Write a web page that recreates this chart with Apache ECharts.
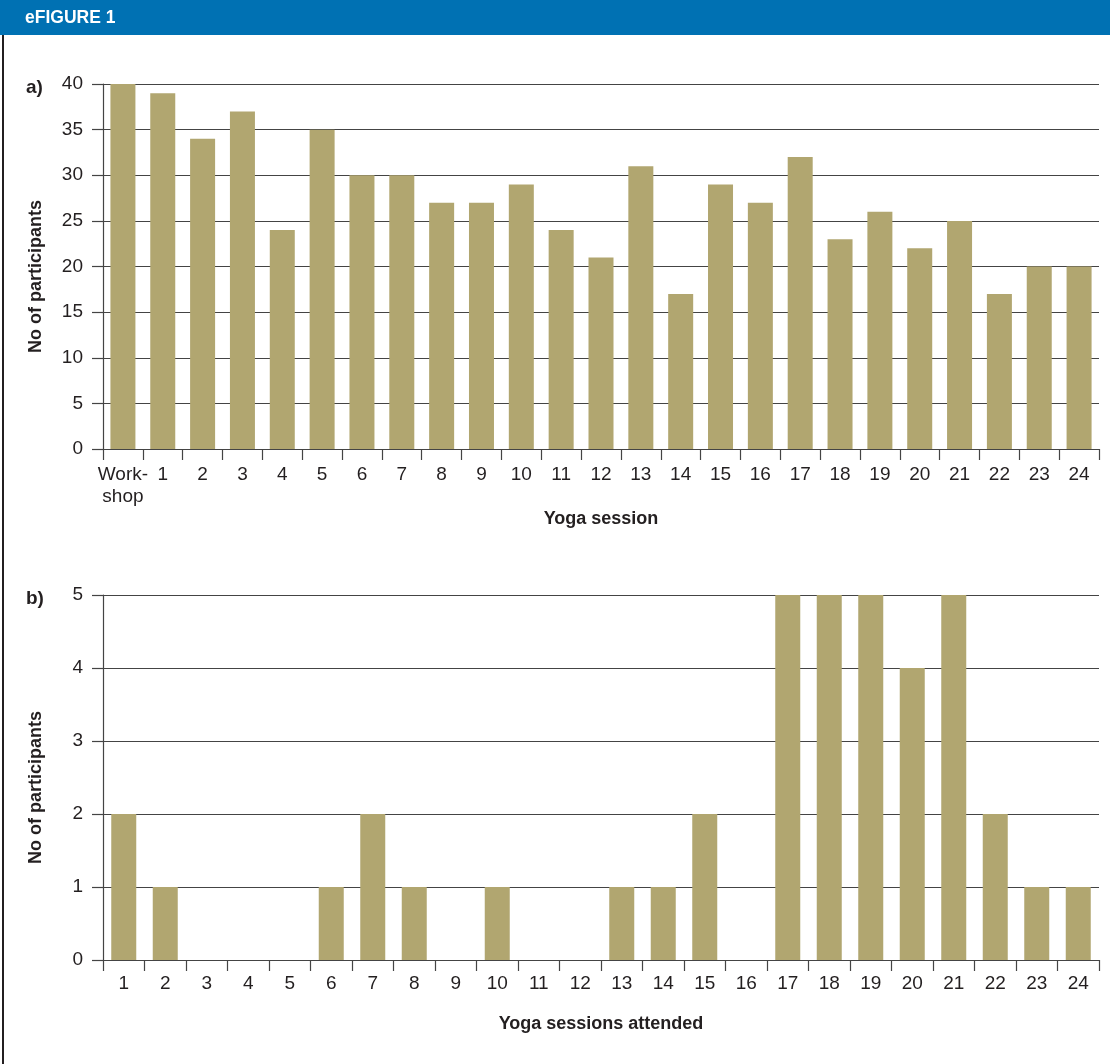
<!DOCTYPE html>
<html>
<head>
<meta charset="utf-8">
<script src="https://cdn.jsdelivr.net/npm/echarts@6/dist/echarts.min.js"></script>
<style>
  html, body { margin: 0; padding: 0; background: #fff; }
  #chart { width: 1110px; height: 1064px; }
</style>
</head>
<body>
<div id="chart"></div>
<script>
// Panel a: attendance per yoga session
const sessionCategories = ['Work-\nshop', '1', '2', '3', '4', '5', '6', '7', '8', '9', '10', '11', '12',
  '13', '14', '15', '16', '17', '18', '19', '20', '21', '22', '23', '24'];
const sessionParticipants = [40, 39, 34, 37, 24, 35, 30, 30, 27, 27, 29, 24, 21,
  31, 17, 29, 27, 32, 23, 26, 22, 25, 17, 20, 20];

// Panel b: number of participants by sessions attended
const attendedCategories = ['1', '2', '3', '4', '5', '6', '7', '8', '9', '10', '11', '12',
  '13', '14', '15', '16', '17', '18', '19', '20', '21', '22', '23', '24'];
const attendedParticipants = [2, 1, 0, 0, 0, 1, 2, 1, 0, 1, 0, 0,
  1, 1, 2, 0, 5, 5, 5, 4, 5, 2, 1, 1];

const FONT = '"Liberation Sans", Arial, sans-serif';
const INK = '#231f20';
const BAR = '#b1a670';

const chart = echarts.init(document.getElementById('chart'), null, { renderer: 'canvas' });

function yAxisCfg(gridIndex, max, interval) {
  return {
    gridIndex, type: 'value', min: 0, max, interval,
    name: 'No of participants', nameLocation: 'middle', nameGap: 58, nameRotate: 90,
    nameTextStyle: { fontFamily: FONT, fontWeight: 'bold', fontSize: 18, color: INK, padding: [0, 20, 0, 0] },
    axisLine: { show: true, lineStyle: { color: '#444', width: 1.2 } },
    axisTick: { show: true, length: 11, lineStyle: { color: '#444', width: 1.2 } },
    axisLabel: { fontFamily: FONT, fontSize: 19, color: INK, margin: 20 },
    splitLine: { show: true, lineStyle: { color: '#444', width: 1.2 } }
  };
}

function xAxisCfg(gridIndex, data, name, gap, margin) {
  return {
    gridIndex, type: 'category', data,
    name, nameLocation: 'middle', nameGap: gap,
    nameTextStyle: { fontFamily: FONT, fontWeight: 'bold', fontSize: 18, color: INK },
    axisLine: { show: true, lineStyle: { color: '#444', width: 1.2 } },
    axisTick: { show: true, length: 11, alignWithLabel: false, lineStyle: { color: '#444', width: 1.2 } },
    axisLabel: { fontFamily: FONT, fontSize: 19, color: INK, margin, interval: 0, lineHeight: 22 }
  };
}

chart.setOption({
  animation: false,
  backgroundColor: '#fff',
  grid: [
    { left: 103, right: 11, top: 84, height: 365 },
    { left: 103, right: 11, top: 595, height: 365 }
  ],
  xAxis: [
    xAxisCfg(0, sessionCategories, 'Yoga session', 61, 15),
    xAxisCfg(1, attendedCategories, 'Yoga sessions attended', 55, 13)
  ],
  yAxis: [
    yAxisCfg(0, 40, 5),
    yAxisCfg(1, 5, 1)
  ],
  series: [
    {
      type: 'bar', xAxisIndex: 0, yAxisIndex: 0, data: sessionParticipants,
      barWidth: 25, itemStyle: { color: BAR }, z: 3
    },
    {
      type: 'bar', xAxisIndex: 1, yAxisIndex: 1, data: attendedParticipants,
      barWidth: 25, itemStyle: { color: BAR }, z: 3
    }
  ],
  graphic: [
    { type: 'rect', left: 0, top: 0, shape: { width: 1110, height: 35 }, style: { fill: '#0071b3' } },
    { type: 'text', left: 25, top: 9,
      style: { text: 'eFIGURE 1', fill: '#fff', font: 'bold 17.5px ' + FONT } },
    { type: 'rect', left: 2, top: 35, shape: { width: 2, height: 1029 }, style: { fill: INK } },
    { type: 'text', left: 26, top: 78,
      style: { text: 'a)', fill: INK, font: 'bold 19px ' + FONT } },
    { type: 'text', left: 26, top: 589,
      style: { text: 'b)', fill: INK, font: 'bold 19px ' + FONT } }
  ]
});
</script>
</body>
</html>
